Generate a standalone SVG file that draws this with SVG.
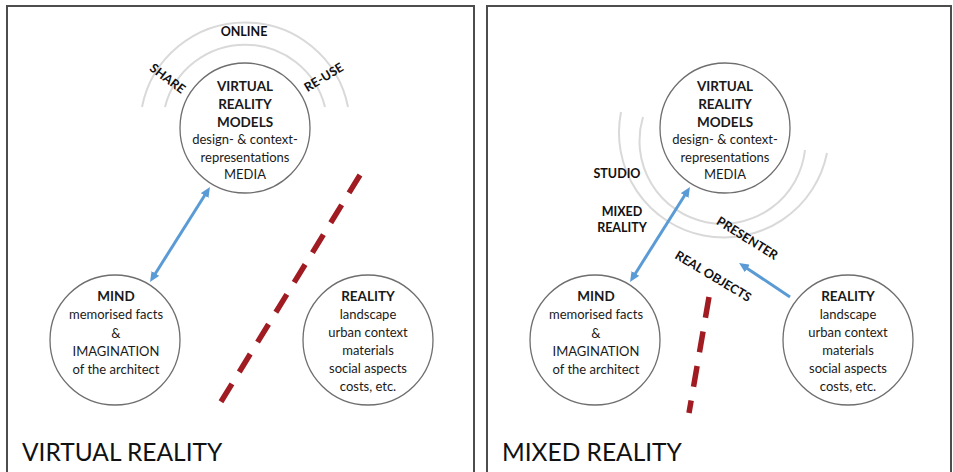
<svg xmlns="http://www.w3.org/2000/svg" width="953" height="472" viewBox="0 0 953 472">
<style>
.frame{fill:none;stroke:#4d4d4d;stroke-width:2}
.node{fill:#fff;stroke:#6e6e6e;stroke-width:1.3}
.arc{fill:none;stroke:#d9d9d9;stroke-width:2}
.t{font-family:Lato,"Open Sans",sans-serif;font-size:13px;fill:#1a1a1a;text-anchor:middle}
.b{font-weight:bold;font-size:13.5px}
.lbl{font-family:Lato,"Open Sans",sans-serif;font-size:12.5px;font-weight:bold;fill:#111;text-anchor:middle}
.title{font-family:Lato,"Open Sans",sans-serif;font-size:24.5px;fill:#111}
.blue{stroke:#5b9bd5;stroke-width:3;fill:none}
.red{stroke:#a01c22;stroke-width:5.5;stroke-dasharray:21 14;fill:none}
</style>
<defs>
<marker id="ah" viewBox="0 0 10 9" refX="2" refY="4.5" markerWidth="10" markerHeight="9" markerUnits="userSpaceOnUse" orient="auto-start-reverse">
<path d="M0,0 L10,4.5 L0,9 z" fill="#5b9bd5"/>
</marker>
</defs>
<rect width="953" height="472" fill="#fff"/>
<rect class="frame" x="7" y="6" width="467" height="480"/>
<rect class="frame" x="487" y="6" width="464" height="480"/>

<g id="decor-left">
<path class="arc" d="M165,107 A82.5,82.5 0 0 1 325,107"/>
<path class="arc" d="M142,107 A105,105 0 0 1 348,107"/>
<text class="lbl" x="244" y="36">ONLINE</text>
<text class="lbl" transform="translate(165,82) rotate(37)">SHARE</text>
<text class="lbl" transform="translate(326,81) rotate(-31)">RE-USE</text>
</g>
<g id="decor-right">
<path class="arc" d="M643,117 A83,83 0 1 0 805,150"/>
<path class="arc" d="M621,112 A105,105 0 1 0 827,153"/>
<text class="lbl" x="617" y="178">STUDIO</text>
<text class="lbl" x="622" y="216">MIXED</text>
<text class="lbl" x="622" y="232">REALITY</text>
<text class="lbl" transform="translate(745,242) rotate(32)">PRESENTER</text>
<text class="lbl" transform="translate(711,280) rotate(31)">REAL OBJECTS</text>
</g>

<g id="connectors">
<line class="blue" x1="154.3" y1="275.2" x2="205.7" y2="193.8" marker-start="url(#ah)" marker-end="url(#ah)"/>
<line class="blue" x1="634.3" y1="275.2" x2="685.7" y2="193.8" marker-start="url(#ah)" marker-end="url(#ah)"/>
<line class="blue" x1="790" y1="297" x2="745.7" y2="267.4" marker-end="url(#ah)"/>
<line class="red" x1="360" y1="175" x2="219" y2="405"/>
<line class="red" x1="709" y1="297" x2="689" y2="413"/>
</g>

<g id="vr-left">
<circle class="node" cx="245" cy="128" r="65"/>
<text class="t b" x="245" y="91">VIRTUAL</text>
<text class="t b" x="245" y="109">REALITY</text>
<text class="t b" x="245" y="127">MODELS</text>
<text class="t" x="245" y="144">design- &amp; context-</text>
<text class="t" x="245" y="162">representations</text>
<text class="t" x="245" y="179">MEDIA</text>
</g>
<g id="mind-left">
<circle class="node" cx="115" cy="340" r="65"/>
<text class="t b" x="116" y="301">MIND</text>
<text class="t" x="116" y="319">memorised facts</text>
<text class="t" x="116" y="338">&amp;</text>
<text class="t" x="116" y="356">IMAGINATION</text>
<text class="t" x="116" y="374">of the architect</text>
</g>
<g id="reality-left">
<circle class="node" cx="368" cy="340" r="65"/>
<text class="t b" x="368" y="301">REALITY</text>
<text class="t" x="368" y="319">landscape</text>
<text class="t" x="368" y="337">urban context</text>
<text class="t" x="368" y="355">materials</text>
<text class="t" x="368" y="373">social aspects</text>
<text class="t" x="368" y="391">costs, etc.</text>
</g>

<g id="vr-right">
<circle class="node" cx="725" cy="128" r="65"/>
<text class="t b" x="725" y="91">VIRTUAL</text>
<text class="t b" x="725" y="109">REALITY</text>
<text class="t b" x="725" y="127">MODELS</text>
<text class="t" x="725" y="144">design- &amp; context-</text>
<text class="t" x="725" y="162">representations</text>
<text class="t" x="725" y="179">MEDIA</text>
</g>
<g id="mind-right">
<circle class="node" cx="595" cy="340" r="65"/>
<text class="t b" x="596" y="301">MIND</text>
<text class="t" x="596" y="319">memorised facts</text>
<text class="t" x="596" y="338">&amp;</text>
<text class="t" x="596" y="356">IMAGINATION</text>
<text class="t" x="596" y="374">of the architect</text>
</g>
<g id="reality-right">
<circle class="node" cx="848" cy="340" r="65"/>
<text class="t b" x="848" y="301">REALITY</text>
<text class="t" x="848" y="319">landscape</text>
<text class="t" x="848" y="337">urban context</text>
<text class="t" x="848" y="355">materials</text>
<text class="t" x="848" y="373">social aspects</text>
<text class="t" x="848" y="391">costs, etc.</text>
</g>

<text class="title" x="22" y="461">VIRTUAL REALITY</text>
<text class="title" x="502" y="461">MIXED REALITY</text>
</svg>
